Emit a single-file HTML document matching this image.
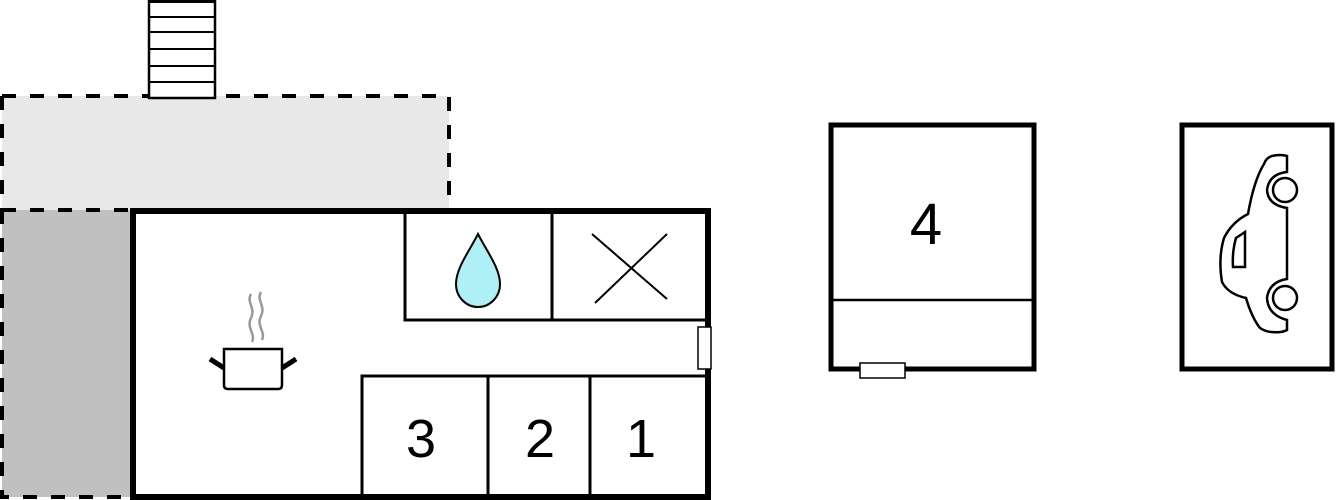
<!DOCTYPE html>
<html><head><meta charset="utf-8"><style>
html,body{margin:0;padding:0;background:#fff;width:1337px;height:500px;overflow:hidden}
svg{display:block}
text{font-family:"Liberation Sans",sans-serif;fill:#000}
</style></head><body>
<svg width="1337" height="500" viewBox="0 0 1337 500" xmlns="http://www.w3.org/2000/svg">
<rect x="2" y="96" width="447" height="114" fill="#e8e8e8"/>
<path d="M2 96 H449 V210" fill="none" stroke="#000" stroke-width="4" stroke-dasharray="14,14"/>
<path d="M2 96 V210" fill="none" stroke="#000" stroke-width="4" stroke-dasharray="14,14"/>
<rect x="2" y="210" width="130" height="287" fill="#c0c0c0"/>
<path d="M2 210 H130" fill="none" stroke="#000" stroke-width="4" stroke-dasharray="14,14"/>
<path d="M2 210 V497 H130" fill="none" stroke="#000" stroke-width="4" stroke-dasharray="14,14"/>
<rect x="149" y="0" width="66" height="98" fill="#fff" stroke="#000" stroke-width="2.5"/>
<g stroke="#000" stroke-width="2">
<line x1="149" y1="2" x2="215" y2="2"/><line x1="149" y1="17" x2="215" y2="17"/>
<line x1="149" y1="32" x2="215" y2="32"/><line x1="149" y1="49" x2="215" y2="49"/>
<line x1="149" y1="66" x2="215" y2="66"/><line x1="149" y1="82" x2="215" y2="82"/>
</g>
<rect x="133" y="211" width="575" height="286" fill="#fff" stroke="#000" stroke-width="6"/>
<g fill="none" stroke="#000" stroke-width="3">
<path d="M405 211 V320 H708"/>
<line x1="552" y1="211" x2="552" y2="320"/>
<path d="M362 497 V376 H708"/>
<line x1="488" y1="376" x2="488" y2="497"/>
<line x1="590" y1="376" x2="590" y2="497"/>
</g>
<rect x="698" y="327" width="13" height="42" fill="#fff" stroke="#000" stroke-width="1.5"/>
<path d="M478 234 C470 250 456 268 456 284 C456 297 466 307 478 307 C490 307 500 297 500 284 C500 268 486 250 478 234 Z" fill="#aef0f5" stroke="#000" stroke-width="2"/>
<g stroke="#000" stroke-width="2"><line x1="592" y1="234" x2="667" y2="299"/><line x1="667" y1="234" x2="595" y2="303"/></g>
<g fill="none">
<path d="M251 294 C246 302 256 308 251 318 C246 328 256 334 252 342" stroke="#999" stroke-width="2.5"/>
<path d="M261 292 C256 300 266 306 261 316 C256 326 266 332 262 340" stroke="#999" stroke-width="2.5"/>
<path d="M224 349 H282 V385 Q282 389 278 389 H228 Q224 389 224 385 Z" stroke="#000" stroke-width="2.5"/>
<line x1="210" y1="359" x2="224" y2="368" stroke="#000" stroke-width="5"/>
<line x1="296" y1="359" x2="282" y2="368" stroke="#000" stroke-width="5"/>
</g>
<text x="421" y="457" font-size="54" text-anchor="middle">3</text>
<text x="540" y="457" font-size="54" text-anchor="middle">2</text>
<text x="641" y="457" font-size="54" text-anchor="middle">1</text>
<rect x="831" y="125" width="203" height="244" fill="#fff" stroke="#000" stroke-width="5"/>
<line x1="831" y1="300" x2="1034" y2="300" stroke="#000" stroke-width="2.5"/>
<text x="926" y="244" font-size="58" text-anchor="middle">4</text>
<rect x="860" y="363" width="45" height="15" fill="#fff" stroke="#000" stroke-width="1.5"/>
<rect x="1182" y="125" width="150" height="244" fill="#fff" stroke="#000" stroke-width="5"/>
<g fill="#fff" stroke="#000" stroke-width="2.5">
<path d="M1287 160 L1287 156 Q1280 154 1272 156 Q1266 158 1264 164 Q1254 180 1248 214 Q1232 222 1224 238 Q1218 258 1222 282 Q1228 294 1246 298 Q1252 318 1260 328 Q1266 332 1272 332 Q1282 333 1287 330 L1287 320 Q1268 315 1267 298 Q1269 282 1287 279 L1287 208 Q1268 205 1267 190 Q1269 174 1287 172 Z"/>
<circle cx="1285" cy="190" r="12"/>
<circle cx="1285" cy="298" r="12"/>
<path d="M1245 232 L1236 238 Q1232 252 1233 267 L1245 267 Z"/>
</g>
</svg>
</body></html>
